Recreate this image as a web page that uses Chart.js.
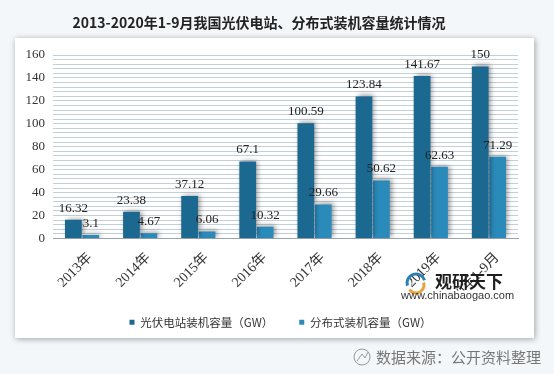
<!DOCTYPE html>
<html>
<head>
<meta charset="utf-8">
<script src="https://cdn.jsdelivr.net/npm/chart.js@4"></script>
<style>
  html, body { margin: 0; padding: 0; background: #f3f7fa; }
  #wrap { width: 554px; height: 374px; }
</style>
</head>
<body>
<div id="wrap"><canvas id="chart" width="554" height="374"></canvas></div>
<script>
const categorias = ["2013年", "2014年", "2015年", "2016年", "2017年", "2018年", "2019年", "2020年1-9月"];
const centralizada = [16.32, 23.38, 37.12, 67.1, 100.59, 123.84, 141.67, 150];
const distribuida = [3.1, 4.67, 6.06, 10.32, 29.66, 50.62, 62.63, 71.29];
const ticksY = [0, 20, 40, 60, 80, 100, 120, 140, 160];
const pasoRejilla = 4; // lineas finas de fondo cada 4 GW

const serif = "'Liberation Serif', 'Noto Sans CJK SC', serif";
const cjk = "'Noto Sans CJK SC', sans-serif";

// fondo, recuadro blanco, titulo, marca de agua y fuente
const fondo = {
  id: "fondo",
  beforeDraw(chart) {
    const ctx = chart.ctx;
    ctx.save();
    ctx.fillStyle = "#f3f7fa";
    ctx.fillRect(0, 0, chart.width, chart.height);
    ctx.shadowColor = "rgba(0,0,0,0.35)";
    ctx.shadowBlur = 6;
    ctx.shadowOffsetX = 1;
    ctx.shadowOffsetY = 1;
    ctx.fillStyle = "#ffffff";
    ctx.fillRect(15, 38, 519, 300);
    ctx.restore();

    ctx.save();
    ctx.fillStyle = "#222";
    ctx.font = "bold 14px " + cjk;
    ctx.textAlign = "center";
    ctx.textBaseline = "middle";
    ctx.fillText("2013-2020年1-9月我国光伏电站、分布式装机容量统计情况", 259, 23);
    ctx.restore();
  },
  afterLayout(chart) {
    // la leyenda del original esta algo mas a la derecha
    chart.legend.left += 14;
    chart.legend.right += 14;
  },
  afterDraw(chart) {
    const ctx = chart.ctx;
    ctx.save();
    // marca de agua
    ctx.strokeStyle = "#2a7fb8";
    ctx.lineWidth = 3;
    ctx.beginPath();
    ctx.arc(416, 283, 9, Math.PI * 0.9, Math.PI * 1.9);
    ctx.stroke();
    ctx.strokeStyle = "#e6a23c";
    ctx.beginPath();
    ctx.arc(416, 285, 8, Math.PI * 1.9, Math.PI * 0.8);
    ctx.stroke();
    ctx.fillStyle = "#1e1e1e";
    ctx.font = "bold 17px " + cjk;
    ctx.textBaseline = "middle";
    ctx.fillText("观研天下", 435, 282);
    ctx.font = "11px 'Liberation Sans', sans-serif";
    ctx.fillStyle = "#333";
    ctx.fillText("www.chinabaogao.com", 401, 296);
    // fuente
    ctx.strokeStyle = "#999";
    ctx.lineWidth = 1;
    ctx.beginPath();
    ctx.arc(362, 357, 8, 0, Math.PI * 2);
    ctx.stroke();
    ctx.beginPath();
    ctx.moveTo(357, 361); ctx.lineTo(362, 354); ctx.lineTo(365, 358); ctx.lineTo(368, 352);
    ctx.stroke();
    ctx.fillStyle = "#777";
    ctx.font = "15px " + cjk;
    ctx.fillText("数据来源：公开资料整理", 376, 357);
    ctx.restore();
  }
};

// sombra de las barras
const sombra = {
  id: "sombra",
  beforeDatasetsDraw(chart) {
    const ctx = chart.ctx;
    ctx.save();
    ctx.shadowColor = "rgba(0,0,0,0.4)";
    ctx.shadowBlur = 5;
    ctx.shadowOffsetX = 2;
    ctx.shadowOffsetY = -1;
  },
  afterDatasetsDraw(chart) {
    chart.ctx.restore();
    // etiquetas de valores
    const ctx = chart.ctx;
    ctx.save();
    ctx.font = "13px " + serif;
    ctx.fillStyle = "#222";
    ctx.textAlign = "center";
    ctx.textBaseline = "bottom";
    chart.data.datasets.forEach((ds, i) => {
      const meta = chart.getDatasetMeta(i);
      meta.data.forEach((bar, j) => {
        ctx.fillText(String(ds.data[j]), bar.x, bar.y - 5);
      });
    });
    ctx.restore();
  }
};

new Chart(document.getElementById("chart").getContext("2d"), {
  type: "bar",
  data: {
    labels: categorias,
    datasets: [
      {
        label: "光伏电站装机容量（GW）",
        backgroundColor: "#1b6890",
        data: centralizada
      },
      {
        label: "分布式装机容量（GW）",
        backgroundColor: "#2a8bbb",
        data: distribuida
      }
    ]
  },
  plugins: [fondo, sombra],
  options: {
    responsive: false,
    animation: false,
    devicePixelRatio: 1,
    categoryPercentage: 0.6,
    barPercentage: 0.96,
    layout: { padding: { left: 15, right: 36, top: 55, bottom: 36 } },
    plugins: {
      legend: {
        position: "bottom",
        labels: {
          usePointStyle: true,
          pointStyle: "rect",
          boxWidth: 5,
          boxHeight: 5,
          padding: 26,
          color: "#333",
          font: { family: cjk, size: 11.5 }
        }
      },
      tooltip: { enabled: false }
    },
    scales: {
      x: {
        grid: { display: false },
        border: { color: "#9aa4ad" },
        afterFit: (s) => { s.height = 52; },
        ticks: {
          maxRotation: 45,
          minRotation: 45,
          labelOffset: 8,
          color: "#333",
          font: { family: serif, size: 14 }
        }
      },
      y: {
        min: 0,
        max: 160,
        afterFit: (s) => { s.width = 38; },
        afterBuildTicks: (s) => {
          const t = [];
          for (let v = s.min; v <= s.max; v += pasoRejilla) t.push({ value: v });
          s.ticks = t;
        },
        border: { display: false },
        grid: { color: "#c3cfd9", drawTicks: false },
        ticks: {
          autoSkip: false,
          padding: 8,
          color: "#333",
          font: { family: serif, size: 13 },
          callback: (v) => ticksY.includes(v) ? v : ""
        }
      }
    }
  }
});
</script>
</body>
</html>
